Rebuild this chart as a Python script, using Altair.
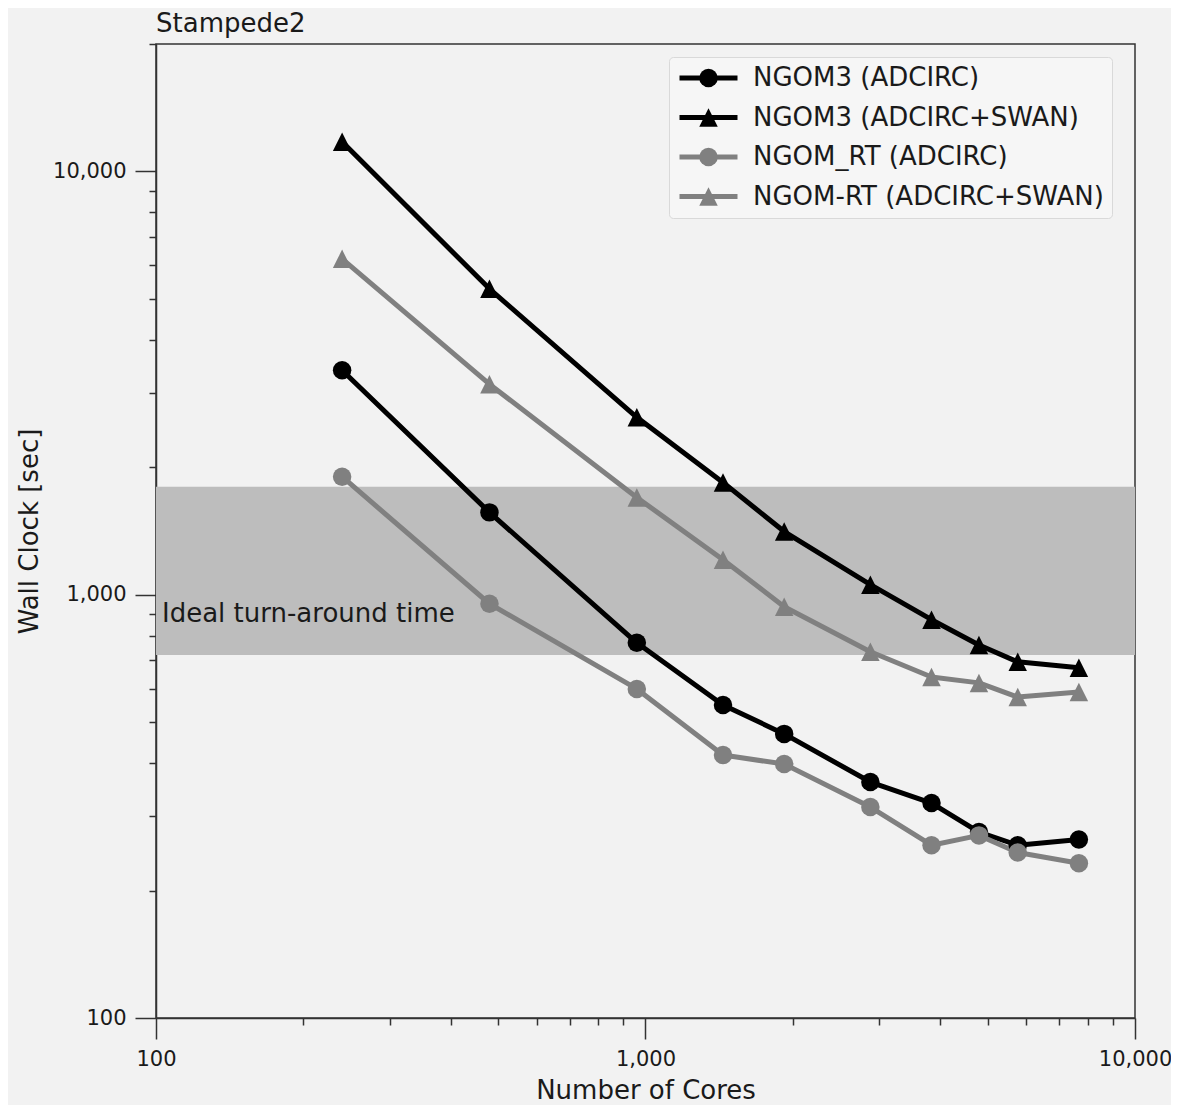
import altair as alt
import pandas as pd

FONT = "DejaVu Sans"
TXT = "#1a1a1a"
AX = "#333333"

# ---- data ----
cores = [240, 480, 960, 1440, 1920, 2880, 3840, 4800, 5760, 7680]
series_names = ["NGOM3 (ADCIRC)", "NGOM3 (ADCIRC+SWAN)", "NGOM_RT (ADCIRC)", "NGOM-RT (ADCIRC+SWAN)"]
ngom3_adcirc = [3390, 1565, 770, 549, 469, 361, 322, 275, 256, 264]
ngom3_adcirc_swan = [11750, 5280, 2625, 1842, 1410, 1056, 873, 761, 694, 672]
ngomrt_adcirc = [1900, 952, 599, 418, 398, 315, 256, 270, 246, 232]
ngomrt_adcirc_swan = [6215, 3143, 1697, 1210, 937, 733, 639, 619, 573, 589]
series_colors = ["#000000", "#000000", "#808080", "#808080"]
triangle = "M0,-1L-1,1L1,1Z"
series_shapes = ["circle", triangle, "circle", triangle]
series_sizes = [342, 342, 576, 576]

band_low = [720]
band_high = [1800]
note_text = ["Ideal turn-around time"]
note_x = [100]
note_y = [860]

major_ticks = [100, 1000, 10000]
minor_x = [200, 300, 400, 500, 600, 700, 800, 900, 2000, 3000, 4000, 5000, 6000, 7000, 8000, 9000]
minor_y = minor_x + [20000]

values = [ngom3_adcirc, ngom3_adcirc_swan, ngomrt_adcirc, ngomrt_adcirc_swan]
rows = []
for name, vals in zip(series_names, values):
    for c, v in zip(cores, vals):
        rows.append({"cores": c, "time": v, "series": name, "series_m": name})
df = pd.DataFrame(rows)
band_df = pd.DataFrame({"low": band_low, "high": band_high})
note_df = pd.DataFrame({"x": note_x, "y": note_y, "label": note_text})

xscale = alt.Scale(type="log", domain=[100, 10000], nice=False)
yscale = alt.Scale(type="log", domain=[100, 20000], nice=False)

band = alt.Chart(band_df).mark_rect(color="#bdbdbd").encode(
    y=alt.Y("low:Q", scale=yscale, axis=None),
    y2="high:Q",
)

note = alt.Chart(note_df).mark_text(
    align="left", baseline="alphabetic", dx=6, fontSize=26, font=FONT, color=TXT
).encode(
    x=alt.X("x:Q", scale=xscale, axis=alt.Axis(
        values=minor_x, tickSize=7, labels=False, domain=False, title=None,
        orient="bottom", grid=False, tickColor=AX, tickWidth=1.5)),
    y=alt.Y("y:Q", scale=yscale, axis=alt.Axis(
        values=minor_y, tickSize=7, labels=False, domain=False, title=None,
        orient="left", grid=False, tickColor=AX, tickWidth=1.5)),
    text="label:N",
)

lines = alt.Chart(df).mark_line(strokeWidth=5, strokeJoin="round").encode(
    x=alt.X("cores:Q", scale=xscale, axis=alt.Axis(
        values=major_ticks, format=",", tickSize=21, labelPadding=9, labelFlush=False,
        title="Number of Cores", titlePadding=8, orient="bottom")),
    y=alt.Y("time:Q", scale=yscale, axis=alt.Axis(
        values=major_ticks, format=",", tickSize=21, labelPadding=9,
        title="Wall Clock [sec]", titlePadding=10, orient="left")),
    color=alt.Color("series:N", sort=series_names, scale=alt.Scale(range=series_colors),
                    legend=alt.Legend(
                        title=None, orient="none", legendX=513, legendY=13,
                        symbolType="stroke", symbolSize=3364, symbolStrokeWidth=5,
                        clipHeight=26, rowPadding=13.5, labelOffset=13, padding=8,
                        fillColor="#f6f6f6", strokeColor="#d9d9d9", cornerRadius=4,
                        labelFont=FONT, labelFontSize=26, labelColor=TXT,
                        labelLimit=600)),
)

mleg = alt.Legend(
    title=None, orient="none", legendX=531.5, legendY=13,
    clipHeight=26, rowPadding=13.5, labelOffset=13, padding=8,
    labelFont=FONT, labelFontSize=26, labelExpr="''", labelLimit=600,
    symbolOpacity=1, symbolStrokeWidth=0,
)

points = alt.Chart(df).mark_point(filled=True, opacity=1, strokeWidth=0).encode(
    x=alt.X("cores:Q", scale=xscale, axis=None),
    y=alt.Y("time:Q", scale=yscale, axis=None),
    fill=alt.Fill("series_m:N", scale=alt.Scale(domain=series_names, range=series_colors), legend=mleg),
    shape=alt.Shape("series_m:N", scale=alt.Scale(domain=series_names, range=series_shapes), legend=mleg),
    size=alt.Size("series_m:N", scale=alt.Scale(domain=series_names, range=series_sizes), legend=mleg),
)

chart = alt.layer(band, note, lines, points).resolve_axis(
    x="independent", y="independent"
).resolve_scale(
    x="shared", y="shared"
).properties(
    width=979, height=974,
    autosize=alt.AutoSizeParams(type="none"),
    padding={"left": 148, "top": 36, "right": 36, "bottom": 87},
    title=alt.Title("Stampede2", anchor="start", frame="group", fontSize=26, font=FONT,
                    fontWeight="normal", color=TXT, offset=11, baseline="alphabetic", dy=26),
).configure(
    background="#f2f2f2",
).configure_view(
    stroke=AX, strokeWidth=1.5,
).configure_axis(
    domainColor=AX, domainWidth=1.5, tickColor=AX, tickWidth=1.5,
    labelFont=FONT, labelFontSize=21, labelColor=TXT,
    titleFont=FONT, titleFontSize=26, titleFontWeight="normal", titleColor=TXT,
    grid=False,
)

chart.save("out.html", embed_options={"renderer": "svg", "actions": False})
